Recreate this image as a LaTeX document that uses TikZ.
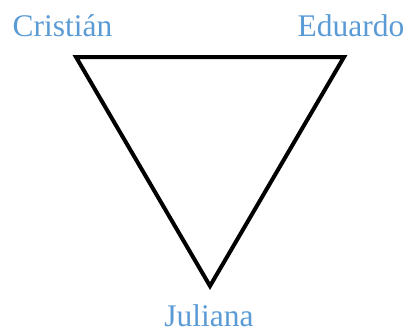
\documentclass[tikz,border=0pt]{standalone}
\usepackage{fontspec}
\setmainfont{Liberation Serif}
\definecolor{lblue}{HTML}{5B9BD5}
\begin{document}
\begin{tikzpicture}[x=1pt,y=-1pt,
  lbl/.style={text=lblue,font=\fontsize{31.5}{31.5}\selectfont,inner sep=0pt,anchor=base},
  tri/.style={draw=black,line width=4pt,line join=miter}]
\useasboundingbox (0,0) rectangle (406,332);
\coordinate (a) at (76,57);
\coordinate (b) at (344,57);
\coordinate (c) at (210,286);
\draw[tri] (a) -- (b) -- (c) -- cycle;
\node[lbl] (n1) at (62.5,36) {Cristián};
\node[lbl] (n2) at (351,36) {Eduardo};
\node[lbl] (n3) at (209,326) {Juliana};
\end{tikzpicture}
\end{document}
